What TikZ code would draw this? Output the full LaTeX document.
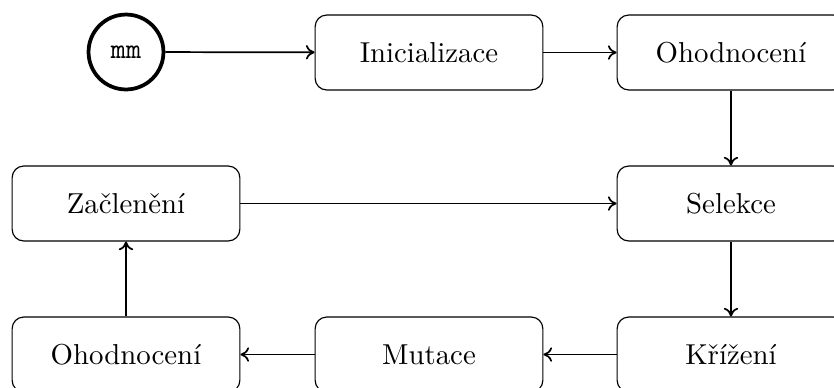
\documentclass[tikz,border=0pt]{standalone}
\usetikzlibrary{arrows.meta}
\begin{document}
\begin{tikzpicture}[x=0.347pt,y=-0.347pt,
  stepbox/.style={draw,rounded corners=4pt,minimum width=79pt,minimum height=26pt,inner sep=0pt,font=\normalsize},
  startnode/.style={draw,circle,line width=1.3pt,minimum size=26pt,inner sep=0pt,font=\ttfamily},
  conn/.style={->,>={To[length=3pt,width=5pt]},semithick}]
\useasboundingbox (0,0) rectangle (834,387);
\clip (0,0) rectangle (834,387);
\node[startnode] (start) at (126,52) {mm};
\node[stepbox] (init) at (429,52.5) {Inicializace};
\node[stepbox] (eval1) at (731,52.5) {Ohodnocení};
\node[stepbox] (sel) at (731,203.5) {Selekce};
\node[stepbox] (cross) at (731,354.5) {Křížení};
\node[stepbox] (mut) at (429,354.5) {Mutace};
\node[stepbox] (eval2) at (126,354.5) {Ohodnocení};
\node[stepbox] (incl) at (126,203.5) {Začlenění};
\draw[conn] (start) -- (init);
\draw[conn] (init) -- (eval1);
\draw[conn] (eval1) -- (sel);
\draw[conn] (sel) -- (cross);
\draw[conn] (cross) -- (mut);
\draw[conn] (mut) -- (eval2);
\draw[conn] (eval2) -- (incl);
\draw[conn] (incl) -- (sel);
\end{tikzpicture}
\end{document}
